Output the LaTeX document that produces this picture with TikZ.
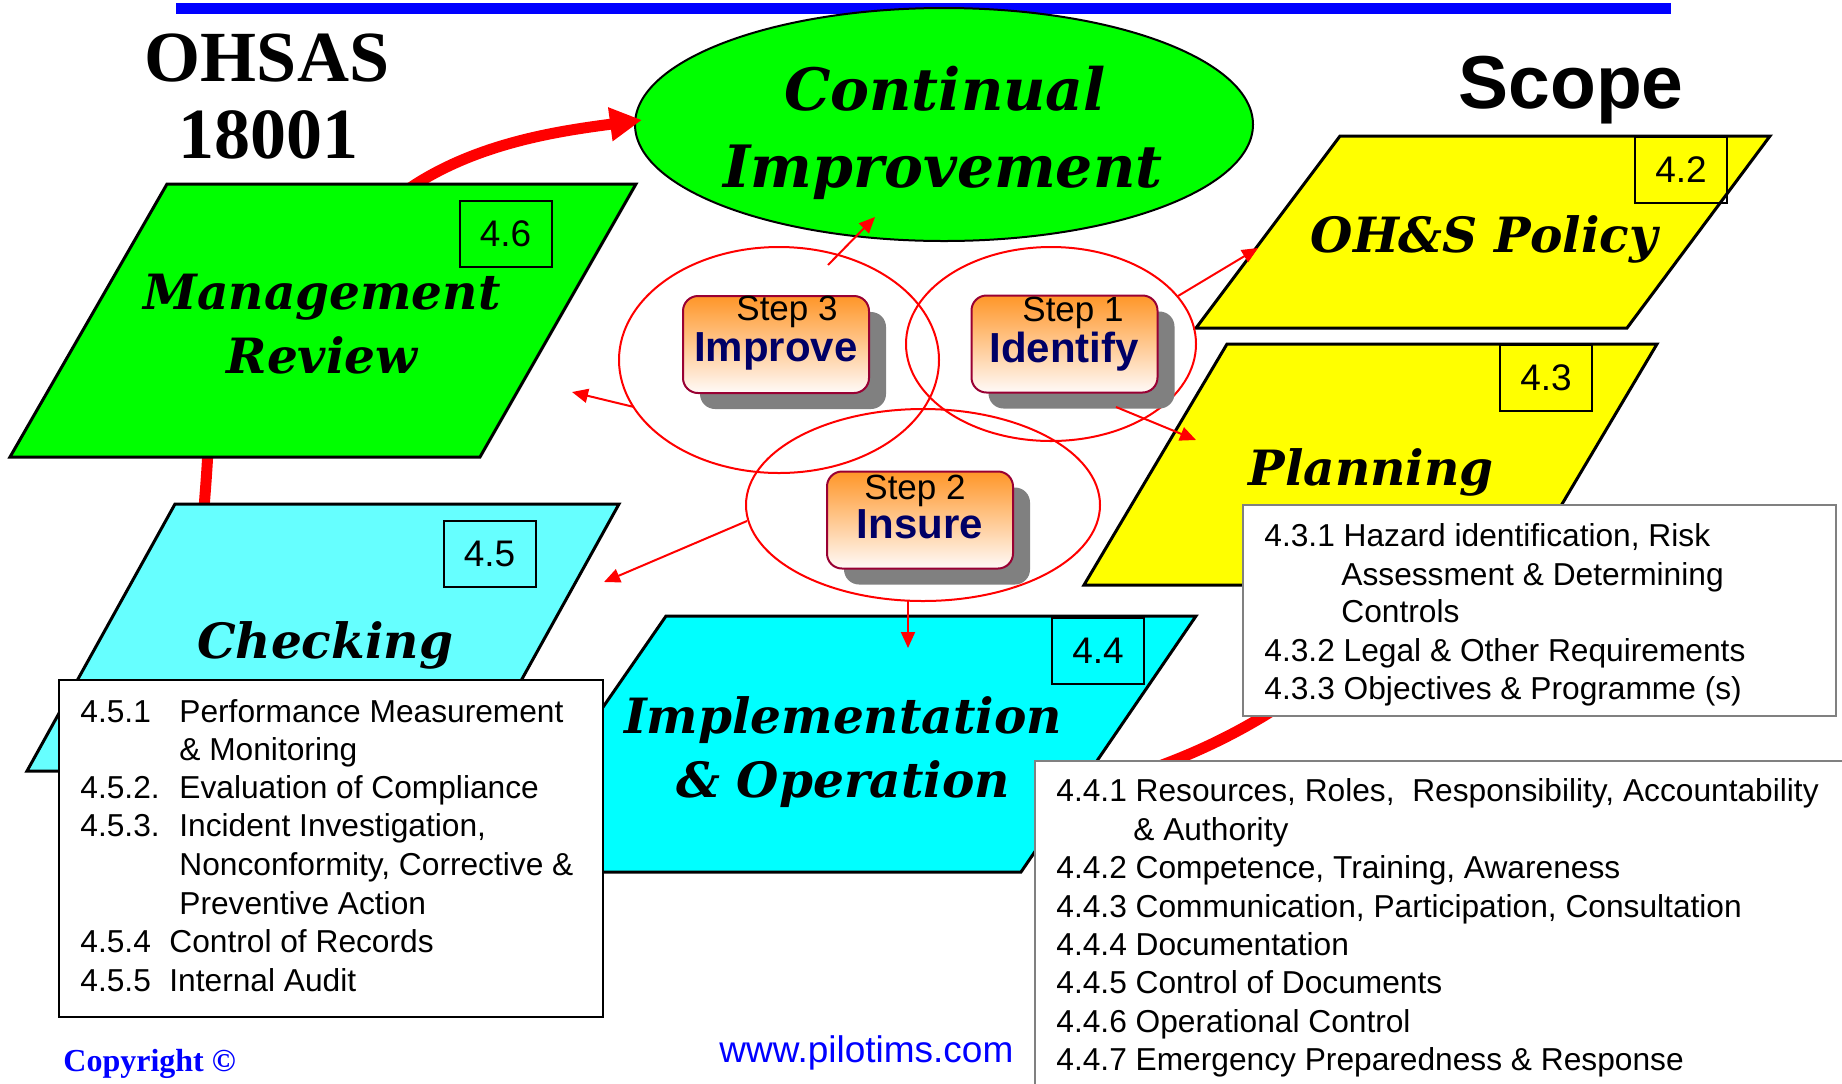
\documentclass[tikz,border=0pt]{standalone}
\usepackage{fontspec}
\setmainfont{Liberation Sans}
\newfontfamily\serifB{Liberation Serif}
\newfontfamily\titleF{DejaVu Serif}
\usetikzlibrary{arrows.meta,shadows,shapes.geometric}

\definecolor{cgreen}{RGB}{0,255,0}
\definecolor{cyellow}{RGB}{255,255,0}
\definecolor{ccyanL}{RGB}{102,255,255}
\definecolor{ccyan}{RGB}{0,255,255}
\definecolor{navy}{RGB}{0,0,102}
\definecolor{stepborder}{RGB}{153,0,51}
\definecolor{orangetop}{RGB}{255,150,40}
\definecolor{orangemid}{RGB}{255,212,175}
\definecolor{orangebot}{RGB}{255,250,248}
\definecolor{boxgrey}{RGB}{128,128,128}
\definecolor{linkblue}{RGB}{0,0,255}
\definecolor{shadowgrey}{RGB}{128,128,128}

\begin{document}
\begin{tikzpicture}[x=0.5pt,y=-0.5pt,
  para/.style={draw=black,line width=1.5pt,line join=miter},
  numbox/.style={draw=black,line width=1pt,minimum width=46pt,minimum height=33pt,inner sep=0pt,font=\fontsize{18.5}{20}\selectfont},
  ttl/.style={font=\titleF\bfseries\itshape\fontsize{24.3}{30}\selectfont,anchor=base,inner sep=0pt},
  cittl/.style={font=\titleF\bfseries\itshape\fontsize{29.2}{36}\selectfont,anchor=base,inner sep=0pt},
  listtxt/.style={font=\fontsize{15.85}{19.25}\selectfont,anchor=base west,inner sep=0pt},
  listbox/.style={draw=boxgrey,fill=white,line width=1pt},
  bigarc/.style={draw=red,line width=5.5pt},
  thinarr/.style={draw=red,line width=1pt,-{Triangle[length=8pt,width=7pt]}},
  stepell/.style={draw=red,line width=1pt},
  stepbox/.style={draw=stepborder,line width=1pt,rounded corners=7.5pt,
    top color=orangetop,middle color=orangemid,bottom color=orangebot,
    minimum width=93pt,minimum height=48.5pt,inner sep=0pt,
    drop shadow={shadow xshift=8.5pt,shadow yshift=-8pt,fill=shadowgrey,opacity=1}},
  steptxt/.style={font=\fontsize{17.5}{20}\selectfont,anchor=base,inner sep=0pt},
  steplbl/.style={font=\bfseries\fontsize{21}{24}\selectfont,text=navy,anchor=base,inner sep=0pt}
]
\useasboundingbox (0,0) rectangle (1842,1083);
\clip (0,0) rectangle (1842,1083);

% top blue bar
\fill[linkblue] (176,3) rectangle (1671,14);

% Continual improvement ellipse
\node[draw=black,line width=1pt,fill=cgreen,ellipse,minimum width=309pt,minimum height=116.5pt,inner sep=0pt] (ci) at (944,124.5) {};
\node[cittl] (ci1) at (945,110) {Continual};
\node[cittl] (ci2) at (943,187) {Improvement};

% thick red arcs (behind the boxes)
\coordinate (arcA0) at (400,195);
\coordinate (arcA1) at (642,120);
\draw[bigarc,-{Triangle[length=16pt,width=16pt]}] (arcA0) .. controls (470,143) and (560,131) .. (arcA1);
\coordinate (arcB0) at (209,420);
\coordinate (arcB1) at (202,540);
\draw[bigarc] (arcB0) .. controls (208,470) and (204,500) .. (arcB1);
\coordinate (arcC0) at (1100,785);
\coordinate (arcC1) at (1330,670);
\draw[bigarc] (arcC0) .. controls (1190,760) and (1260,725) .. (arcC1);

% Management Review
\filldraw[para,fill=cgreen] (167,184) -- (636,184) -- (480,457) -- (10,457) -- cycle;
\node[numbox] (n46) at (505.5,233.5) {4.6};
\node[ttl] (mr1) at (322,309) {Management};
\node[ttl] (mr2) at (322,373) {Review};

% OH&S Policy
\filldraw[para,fill=cyellow] (1340,136) -- (1770,136) -- (1627,328) -- (1196,328) -- cycle;
\node[numbox] (n42) at (1681,170) {4.2};
\node[ttl] (pol) at (1484,252) {OH\&S Policy};

% Planning
\filldraw[para,fill=cyellow] (1227,344) -- (1657,344) -- (1514,585) -- (1084,585) -- cycle;
\node[numbox] (n43) at (1546,377.5) {4.3};
\node[ttl] (pla) at (1371,485) {Planning};

% Checking
\filldraw[para,fill=ccyanL] (175,504) -- (619,504) -- (471,771) -- (27,771) -- cycle;
\node[numbox] (n45) at (489.5,553.5) {4.5};
\node[ttl] (chk) at (325,658) {Checking};

% Implementation & Operation
\filldraw[para,fill=ccyan] (666,616) -- (1196,616) -- (1021,872) -- (489,872) -- cycle;
\node[numbox] (n44) at (1098,650.5) {4.4};
\node[ttl] (imp1) at (843,733) {Implementation};
\node[ttl] (imp2) at (843,797) {\& Operation};

% 4.3 list
\filldraw[listbox] (1243,505) rectangle (1836,716);
\node[listtxt] (l431) at (1264,546) {4.3.1 Hazard identification, Risk};
\node[listtxt] (l431b) at (1341,585) {Assessment \& Determining};
\node[listtxt] (l431c) at (1341,622) {Controls};
\node[listtxt] (l432) at (1264,661) {4.3.2 Legal \& Other Requirements};
\node[listtxt] (l433) at (1264,699) {4.3.3 Objectives \& Programme (s)};

% 4.5 list
\filldraw[listbox,draw=black] (59,680) rectangle (603,1017);
\node[listtxt] (l451) at (80,722) {\makebox[49.5pt][l]{4.5.1}Performance Measurement};
\node[listtxt] (l451b) at (179,760) {\& Monitoring};
\node[listtxt] (l452) at (80,798) {\makebox[49.5pt][l]{4.5.2.}Evaluation of Compliance};
\node[listtxt] (l453) at (80,836) {\makebox[49.5pt][l]{4.5.3.}Incident Investigation,};
\node[listtxt] (l453b) at (179,875) {Nonconformity, Corrective \&};
\node[listtxt] (l453c) at (179,914) {Preventive Action};
\node[listtxt] (l454) at (80,952) {\makebox[44.5pt][l]{4.5.4}Control of Records};
\node[listtxt] (l455) at (80,991) {\makebox[44.5pt][l]{4.5.5}Internal Audit};

% 4.4 list
\filldraw[listbox] (1035,761) rectangle (1900,1120);
\node[listtxt] (l441) at (1056,801) {4.4.1 Resources, Roles,\ \ Responsibility, Accountability};
\node[listtxt] (l441b) at (1133,840) {\& Authority};
\node[listtxt] (l442) at (1056,878) {4.4.2 Competence, Training, Awareness};
\node[listtxt] (l443) at (1056,917) {4.4.3 Communication, Participation, Consultation};
\node[listtxt] (l444) at (1056,955) {4.4.4 Documentation};
\node[listtxt] (l445) at (1056,993) {4.4.5 Control of Documents};
\node[listtxt] (l446) at (1056,1032) {4.4.6 Operational Control};
\node[listtxt] (l447) at (1056,1070) {4.4.7 Emergency Preparedness \& Response};

% step ellipses
\draw[stepell] (779,360) ellipse [x radius=160, y radius=113];
\draw[stepell] (1051,344) ellipse [x radius=145, y radius=97];
\draw[stepell] (923,505) ellipse [x radius=177, y radius=96];

% step boxes
\node[stepbox] (s3) at (776,344.5) {};
\node[steptxt] (s3a) at (787,320) {Step 3};
\node[steplbl] (s3b) at (776,361) {Improve};
\node[stepbox] (s1) at (1064.5,344) {};
\node[steptxt] (s1a) at (1073,321) {Step 1};
\node[steplbl] (s1b) at (1064,362) {Identify};
\node[stepbox] (s2) at (920,520) {};
\node[steptxt] (s2a) at (915,499) {Step 2};
\node[steplbl] (s2b) at (920,538) {Insure};

% thin arrows
\coordinate (a1s) at (828,265); \coordinate (a1e) at (875,217);
\coordinate (a2s) at (1178,296); \coordinate (a2e) at (1258,248);
\coordinate (a3s) at (1116,407); \coordinate (a3e) at (1196,440);
\coordinate (a4s) at (634,407); \coordinate (a4e) at (572,392);
\coordinate (a5s) at (747,521); \coordinate (a5e) at (604,582);
\coordinate (a6s) at (908,600); \coordinate (a6e) at (908,648);
\draw[thinarr] (a1s) -- (a1e);
\draw[thinarr] (a2s) -- (a2e);
\draw[thinarr] (a3s) -- (a3e);
\draw[thinarr] (a4s) -- (a4e);
\draw[thinarr] (a5s) -- (a5e);
\draw[thinarr] (a6s) -- (a6e);

% headings and footer
\node[font=\serifB\bfseries\fontsize{36}{40}\selectfont,anchor=base,inner sep=0pt] (oh1) at (267,81) {OHSAS};
\node[font=\serifB\bfseries\fontsize{36}{40}\selectfont,anchor=base,inner sep=0pt] (oh2) at (268,158) {18001};
\node[font=\bfseries\fontsize{37.5}{42}\selectfont,anchor=base,inner sep=0pt] (scope) at (1571,108) {Scope};
\node[font=\serifB\bfseries\fontsize{16}{18}\selectfont,text=linkblue,anchor=base west,inner sep=0pt] (copy) at (63,1071) {Copyright ©};
\node[font=\fontsize{18.5}{22}\selectfont,text=linkblue,anchor=base west,inner sep=0pt] (url) at (719,1062) {www.pilotims.com};
\end{tikzpicture}
\end{document}
